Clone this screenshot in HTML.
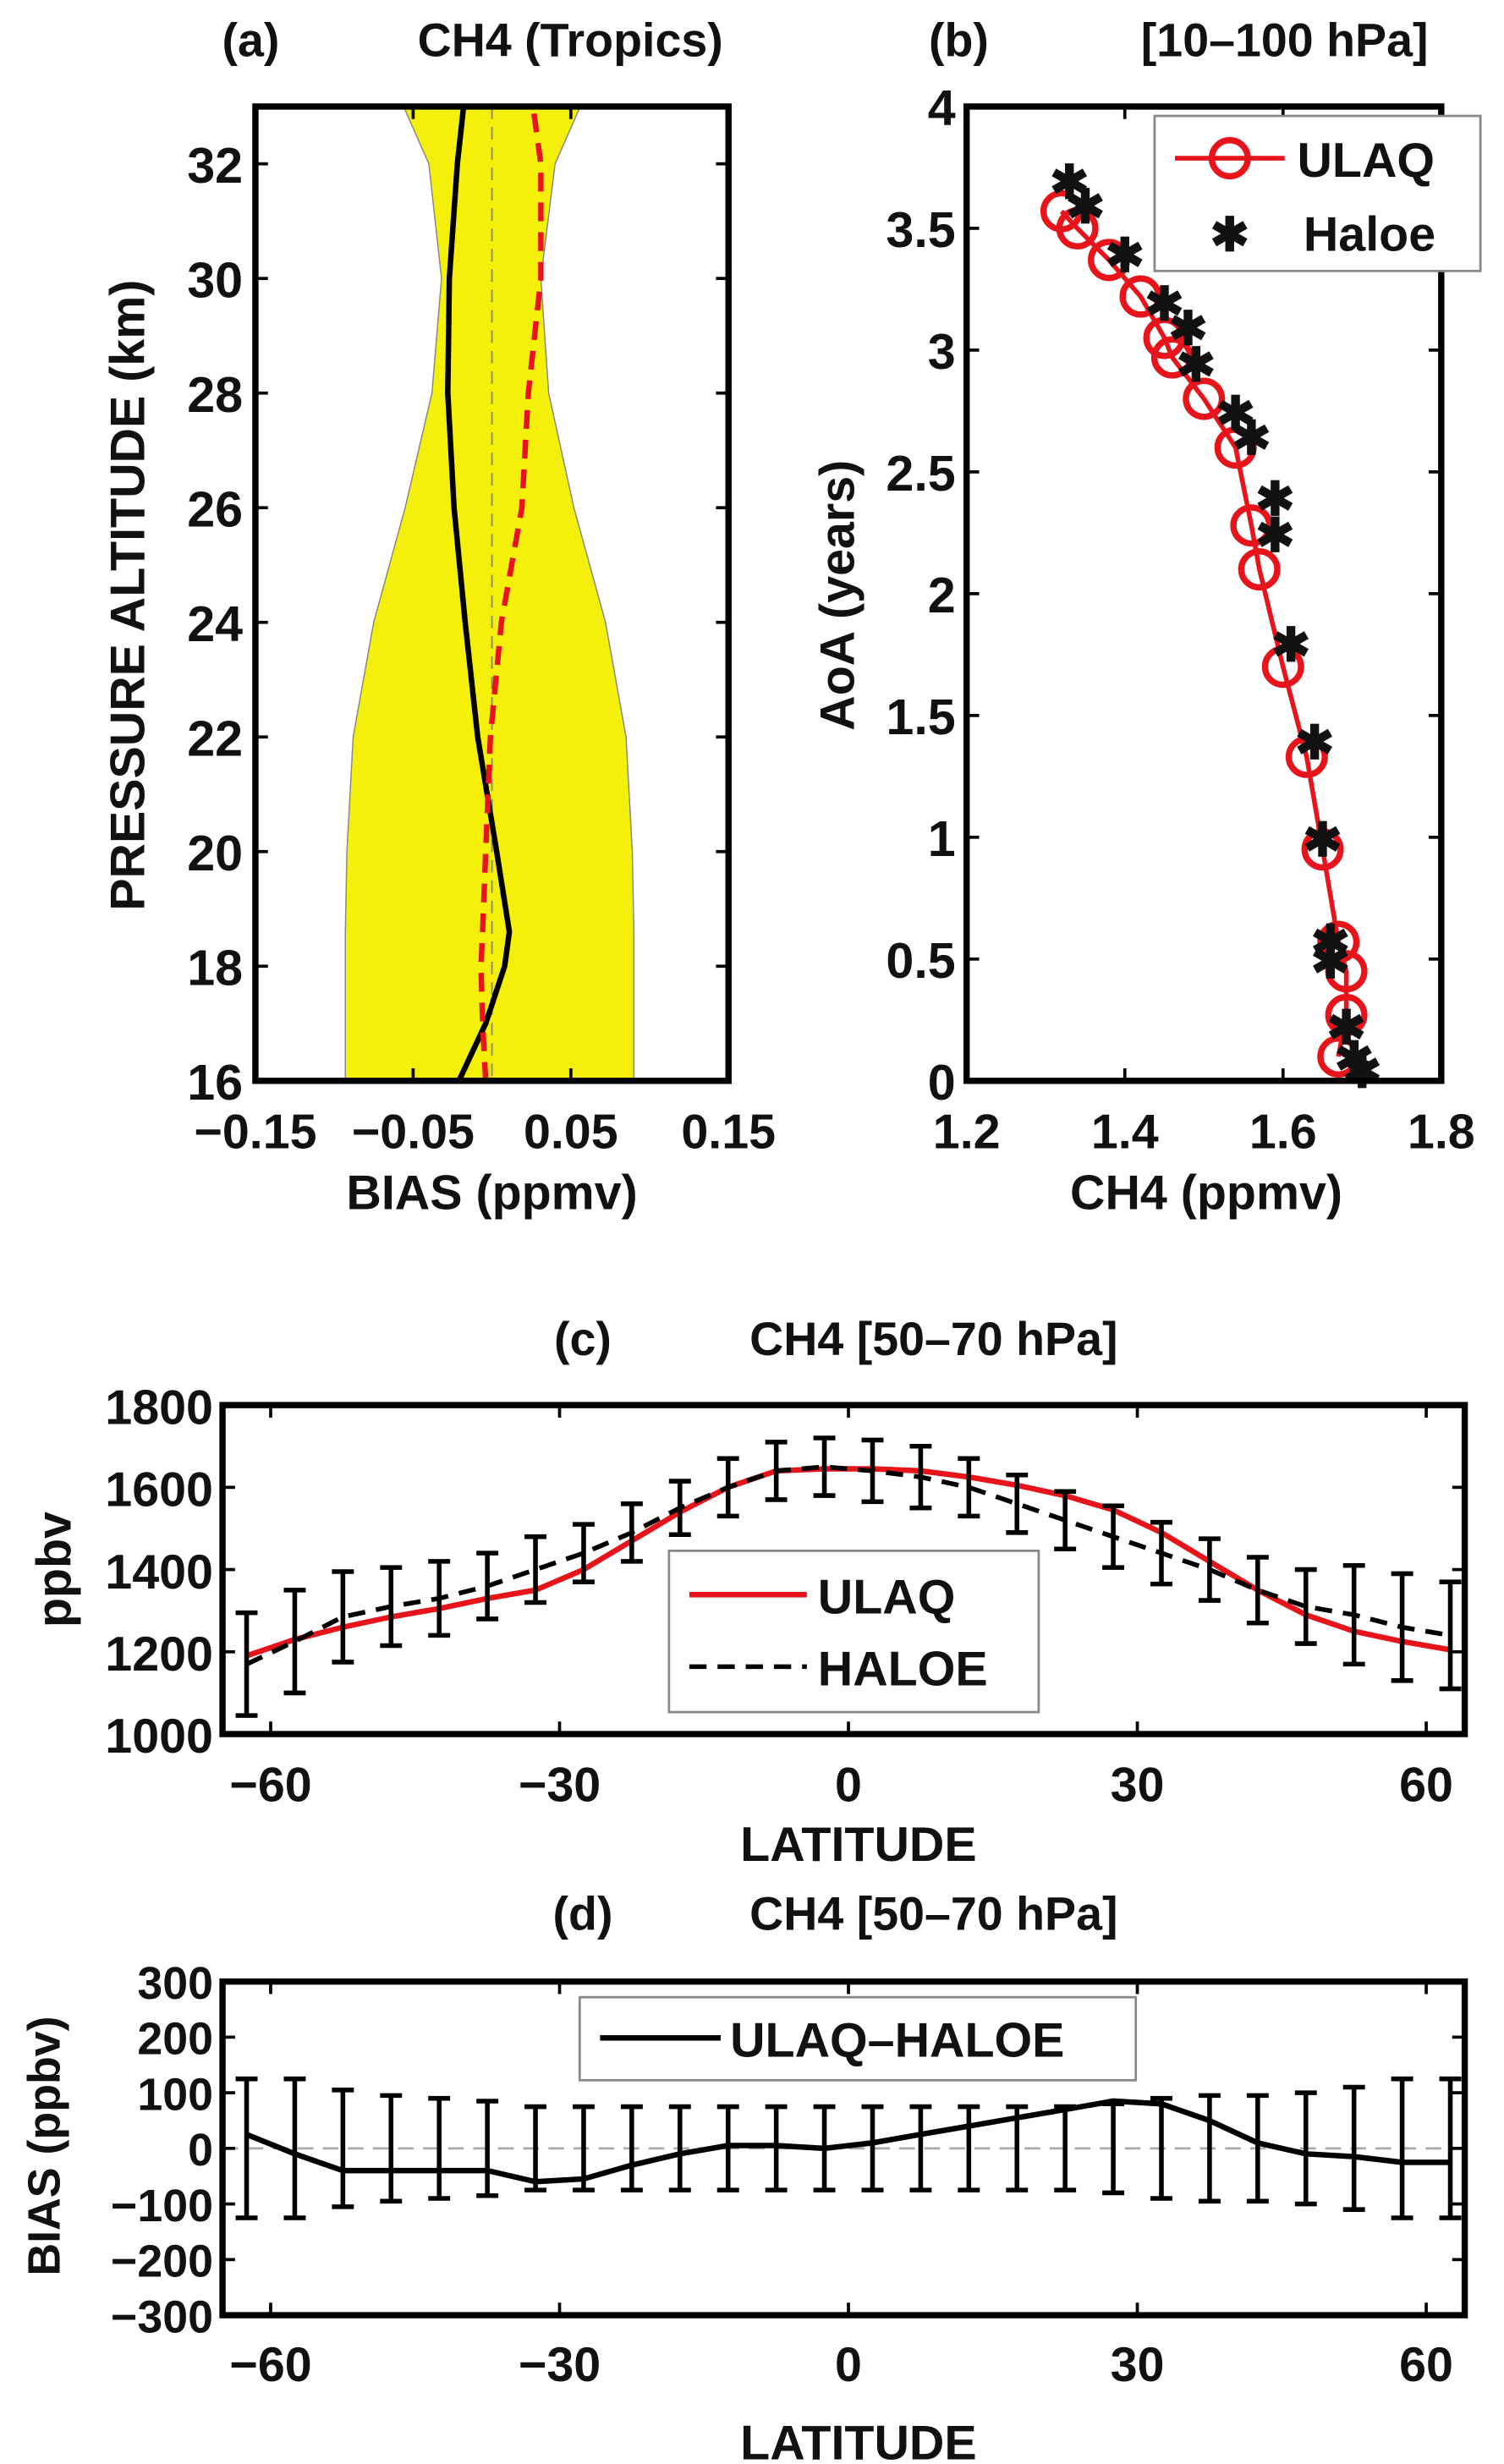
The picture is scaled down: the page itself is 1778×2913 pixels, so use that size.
<!DOCTYPE html>
<html><head><meta charset="utf-8"><style>
html,body{margin:0;padding:0;background:#fff}
svg{display:block}
text{font-family:"Liberation Sans",Arial,sans-serif;font-weight:bold;fill:#111}
</style></head><body>
<svg id="fig" width="1778" height="2913" viewBox="0 0 960 1573" xmlns="http://www.w3.org/2000/svg"></svg>
<script>
// Panel (a)
const altA=[16,17,18,18.6,20,22,24,26,28,30,32,33];
const bandLo=[-0.093,-0.093,-0.093,-0.093,-0.092,-0.088,-0.075,-0.055,-0.038,-0.032,-0.040,-0.056];
const bandHi=[0.090,0.090,0.090,0.090,0.089,0.085,0.072,0.052,0.036,0.031,0.040,0.056];
const blackA=[-0.021,-0.004,0.008,0.011,0.003,-0.009,-0.017,-0.024,-0.028,-0.027,-0.022,-0.018];
const redA=[-0.004,-0.006,-0.007,-0.006,-0.004,-0.001,0.006,0.019,0.023,0.031,0.031,0.026];
const xTicksA=[-0.15,-0.05,0.05,0.15];
const yTicksA=[16,18,20,22,24,26,28,30,32];
// Panel (b)
const ulaqX=[1.67,1.68,1.68,1.67,1.65,1.63,1.60,1.57,1.56,1.54,1.50,1.46,1.45,1.42,1.38,1.34,1.32];
const ulaqY=[0.1,0.27,0.45,0.57,0.95,1.33,1.7,2.1,2.28,2.6,2.8,2.97,3.05,3.22,3.37,3.5,3.57];
const haloeX=[1.70,1.69,1.68,1.66,1.66,1.65,1.64,1.61,1.59,1.59,1.56,1.54,1.49,1.48,1.45,1.40,1.35,1.33];
const haloeY=[0.05,0.1,0.23,0.5,0.58,1.0,1.4,1.8,2.25,2.4,2.65,2.75,2.95,3.1,3.2,3.4,3.6,3.7];
const xTicksB=[1.2,1.4,1.6,1.8];
const yTicksB=[0,0.5,1,1.5,2,2.5,3,3.5,4];
// Panels (c),(d)
const lats=[-62.5,-57.5,-52.5,-47.5,-42.5,-37.5,-32.5,-27.5,-22.5,-17.5,-12.5,-7.5,-2.5,2.5,7.5,12.5,17.5,22.5,27.5,32.5,37.5,42.5,47.5,52.5,57.5,62.5];
const haloeC=[1170,1225,1285,1310,1330,1360,1400,1440,1490,1550,1600,1640,1650,1640,1625,1600,1560,1520,1480,1440,1400,1350,1310,1290,1260,1240];
const errC=[125,125,110,95,90,80,80,70,70,65,70,70,70,75,75,70,70,70,75,75,75,80,90,120,130,130];
const ulaqC=[1190,1230,1260,1285,1305,1330,1350,1400,1470,1540,1600,1640,1645,1645,1640,1625,1605,1580,1545,1490,1420,1350,1290,1250,1225,1205];
const biasD=[25,-10,-40,-40,-40,-40,-60,-55,-30,-10,5,5,0,10,25,40,55,70,85,80,50,10,-10,-15,-25,-25];
const errD=[125,125,105,95,90,85,75,75,75,75,75,75,75,75,75,75,75,75,80,90,95,95,100,110,125,125];
const latTicks=[-60,-30,0,30,60];
const yTicksC=[1000,1200,1400,1600,1800];
const yTicksD=[-300,-200,-100,0,100,200,300];

const NS="http://www.w3.org/2000/svg";
const svg=document.getElementById('fig');
function el(tag,attrs,parent){const e=document.createElementNS(NS,tag);for(const k in attrs)e.setAttribute(k,attrs[k]);(parent||svg).appendChild(e);return e;}
function txt(s,x,y,size,anchor,parent,rot){const t=el('text',{x:x,y:y,'font-size':size,'text-anchor':anchor||'middle'},parent);if(rot)t.setAttribute('transform','rotate(-90 '+x+' '+y+')');t.textContent=s;return t;}
function lin(d0,d1,r0,r1){return v=>r0+(v-d0)/(d1-d0)*(r1-r0);}
function pathOf(xs,ys){return xs.map((x,i)=>(i?'L':'M')+x.toFixed(1)+' '+ys[i].toFixed(1)).join(' ');}
function frame(g,L,T,R,B,xt,xs,yt,ys){
  xt.forEach(v=>{const X=xs(v);el('line',{x1:X,x2:X,y1:B,y2:B-8,stroke:'#000','stroke-width':2},g);el('line',{x1:X,x2:X,y1:T,y2:T+8,stroke:'#000','stroke-width':2},g);});
  yt.forEach(v=>{const Y=ys(v);el('line',{x1:L,x2:L+8,y1:Y,y2:Y,stroke:'#000','stroke-width':2},g);el('line',{x1:R,x2:R-8,y1:Y,y2:Y,stroke:'#000','stroke-width':2},g);});
  el('rect',{x:L,y:T,width:R-L,height:B-T,fill:'none',stroke:'#000','stroke-width':4},g);
}

// ---- Panel a
let g=el('g',{});
let xa=lin(-0.15,0.15,163,465), ya=lin(16,33,690,68);
let band=el('path',{d:pathOf(bandLo.map(xa),altA.map(ya))+' '+pathOf(bandHi.map(xa).reverse(),altA.map(ya).reverse()).replace('M','L')+' Z',fill:'#f5f00a',stroke:'#888','stroke-width':0.8},g);

el('line',{x1:xa(0),x2:xa(0),y1:68,y2:690,stroke:'#888','stroke-width':1,'stroke-dasharray':'8 5'},g);
let bl=el('path',{d:pathOf(blackA.map(xa),altA.map(ya)),fill:'none',stroke:'#000','stroke-width':3.5},g);

let rl=el('path',{d:pathOf(redA.map(xa),altA.map(ya)),fill:'none',stroke:'#e8141c','stroke-width':3.5,'stroke-dasharray':'12 7'},g);

frame(g,163,68,465,690,xTicksA,xa,yTicksA,ya);
xTicksA.forEach(v=>txt(v===0?'0':(v<0?'\u2212'+Math.abs(v):String(v)),xa(v),733,31,'middle',g));
yTicksA.forEach(v=>txt(String(v),155,ya(v)+12,32,'end',g));
txt('BIAS (ppmv)',314,772,31,'middle',g);
txt('PRESSURE ALTITUDE  (km)',92,380,31,'middle',g,true);
txt('(a)',160,36,30,'middle',g);txt('CH4 (Tropics)',364,36,30,'middle',g);

// ---- Panel b
g=el('g',{});
let xb=lin(1.2,1.8,617,920), yb=lin(0,4,690,68);
let ul=el('path',{d:pathOf(ulaqX.map(xb),ulaqY.map(yb)),fill:'none',stroke:'#e8141c','stroke-width':3},g);

ulaqX.forEach((v,i)=>{const c=el('circle',{cx:xb(v),cy:yb(ulaqY[i]),r:11.5,fill:'none',stroke:'#e8141c','stroke-width':4},g);});
function star(x,y,p){const s=el('text',{x:x,y:y+12,'font-size':30,'text-anchor':'middle'},p);s.textContent='\u2731';}
haloeX.forEach((v,i)=>star(xb(v),yb(haloeY[i]),g));
frame(g,617,68,920,690,xTicksB,xb,yTicksB,yb);
xTicksB.forEach(v=>txt(v.toFixed(1),xb(v),733,31,'middle',g));
yTicksB.forEach(v=>txt(String(v),610,yb(v)+12,32,'end',g));
txt('CH4 (ppmv)',770,772,31,'middle',g);
txt('AoA (years)',545,380,31,'middle',g,true);
txt('(b)',612,36,30,'middle',g);txt('[10\u2013100 hPa]',820,36,30,'middle',g);
let lg=el('g',{},g);
el('rect',{x:737,y:74,width:208,height:99,fill:'#fff',stroke:'#888','stroke-width':1.5},lg);
el('line',{x1:750,x2:820,y1:101,y2:101,stroke:'#e8141c','stroke-width':3},lg);
el('circle',{cx:785,cy:101,r:11.5,fill:'none',stroke:'#e8141c','stroke-width':4},lg);
txt('ULAQ',828,113,31,'start',lg);
star(785,148,lg);txt('Haloe',832,160,31,'start',lg);

// ---- Panel c
g=el('g',{});
let xc=lin(-65,64,142,935), yc=lin(1000,1800,1107,897);
let uc=el('path',{d:pathOf(lats.map(xc),ulaqC.map(yc)),fill:'none',stroke:'#e8141c','stroke-width':3.5},g);

let hc=el('path',{d:pathOf(lats.map(xc),haloeC.map(yc)),fill:'none',stroke:'#000','stroke-width':3,'stroke-dasharray':'11 7'},g);

lats.forEach((l,i)=>{const X=xc(l),t=yc(haloeC[i]+errC[i]),b=yc(haloeC[i]-errC[i]);const e=el('path',{d:`M${X} ${t}L${X} ${b}M${X-7} ${t}L${X+7} ${t}M${X-7} ${b}L${X+7} ${b}`,stroke:'#000','stroke-width':3,fill:'none'},g);});
frame(g,142,897,935,1107,latTicks,xc,yTicksC,yc);
latTicks.forEach(v=>txt(v<0?'\u2212'+Math.abs(v):String(v),xc(v),1150,31,'middle',g));
yTicksC.forEach(v=>txt(String(v),136,yc(v)+12,31,'end',g));
txt('LATITUDE',548,1188,31,'middle',g);
txt('ppbv',45,1002,31,'middle',g,true);
txt('(c)',372,865,30,'middle',g);txt('CH4 [50\u201370 hPa]',596,865,30,'middle',g);
lg=el('g',{},g);
el('rect',{x:427,y:990,width:236,height:103,fill:'#fff',stroke:'#888','stroke-width':1.5},lg);
el('line',{x1:440,x2:515,y1:1018,y2:1018,stroke:'#e8141c','stroke-width':3.5},lg);
txt('ULAQ',522,1030,31,'start',lg);
el('line',{x1:440,x2:515,y1:1064,y2:1064,stroke:'#000','stroke-width':3,'stroke-dasharray':'11 7'},lg);
txt('HALOE',522,1076,31,'start',lg);

// ---- Panel d
g=el('g',{});
let yd=lin(-300,300,1478,1265);
el('line',{x1:142,x2:935,y1:yd(0),y2:yd(0),stroke:'#aaa','stroke-width':1.5,'stroke-dasharray':'10 6'},g);
lats.forEach((l,i)=>{const X=xc(l),t=yd(errD[i]),b=yd(-errD[i]);const e=el('path',{d:`M${X} ${t}L${X} ${b}M${X-7} ${t}L${X+7} ${t}M${X-7} ${b}L${X+7} ${b}`,stroke:'#000','stroke-width':3,fill:'none'},g);});
let bd=el('path',{d:pathOf(lats.map(xc),biasD.map(yd)),fill:'none',stroke:'#000','stroke-width':3.5},g);

frame(g,142,1265,935,1478,latTicks,xc,yTicksD,yd);
latTicks.forEach(v=>txt(v<0?'\u2212'+Math.abs(v):String(v),xc(v),1520,31,'middle',g));
yTicksD.forEach(v=>txt(v<0?'\u2212'+Math.abs(v):String(v),136,yd(v)+11,29,'end',g));
txt('LATITUDE',548,1570,31,'middle',g);
txt('BIAS (ppbv)',38,1370,29,'middle',g,true);
txt('(d)',372,1232,30,'middle',g);txt('CH4 [50\u201370 hPa]',596,1232,30,'middle',g);
lg=el('g',{},g);
el('rect',{x:370,y:1275,width:355,height:53,fill:'#fff',stroke:'#888','stroke-width':1.5},lg);
el('line',{x1:383,x2:460,y1:1301,y2:1301,stroke:'#000','stroke-width':3.5},lg);
txt('ULAQ\u2013HALOE',466,1313,31,'start',lg);
</script>
</body></html>
